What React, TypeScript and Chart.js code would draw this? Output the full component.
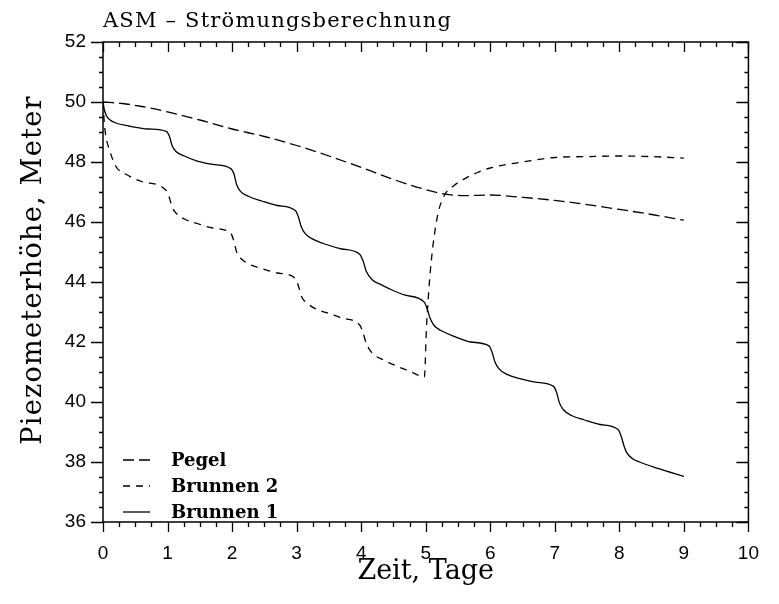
import React, { useEffect, useRef } from "react";
import { Chart, registerables } from "chart.js";

Chart.register(...registerables);

// ---- text ----
const CHART_TITLE = "ASM – Strömungsberechnung";
const X_TITLE = "Zeit, Tage";
const Y_TITLE = "Piezometerhöhe, Meter";
const SERIES_NAMES = ["Pegel", "Brunnen 2", "Brunnen 1"];

// ---- axes ----
const X_MIN = 0;
const X_MAX = 10;
const Y_MIN = 36;
const Y_MAX = 52;
const X_MAJOR_STEP = 1;
const X_MINOR_STEP = 0.25;
const Y_MAJOR_STEP = 2;
const Y_MINOR_STEP = 0.5;

// ---- data: Pegel ----
const pegelT = [0, 0.3, 0.6, 1, 1.5, 2, 2.5, 3, 3.5, 4, 4.5, 5, 5.3, 5.6, 6, 6.5, 7, 7.5, 8, 8.5, 9];
const pegelH = [50, 49.95, 49.85, 49.67, 49.4, 49.1, 48.85, 48.55, 48.2, 47.82, 47.42, 47.08, 46.93, 46.88, 46.9, 46.82, 46.72, 46.58, 46.42, 46.25, 46.06];

// ---- data: Brunnen 2 ----
const brunnen2T = [
  0, 0.02, 0.05, 0.1, 0.2, 0.35, 0.6, 0.98,
  1.03, 1.07, 1.13, 1.26, 1.46, 1.7, 1.98,
  2.03, 2.07, 2.13, 2.26, 2.46, 2.7, 2.98,
  3.03, 3.08, 3.17, 3.3, 3.5, 3.7, 3.98,
  4.03, 4.08, 4.18, 4.35, 4.58, 4.78, 4.98,
  5.01, 5.06, 5.11, 5.19, 5.29, 5.44, 5.56, 5.8, 6.0, 6.5, 7.0, 7.5, 8.0, 8.5, 9.0,
];
const brunnen2H = [
  50, 49.3, 48.8, 48.4, 47.85, 47.6, 47.35, 47.05,
  46.8, 46.5, 46.3, 46.1, 45.95, 45.8, 45.62,
  45.35, 45.0, 44.8, 44.6, 44.45, 44.3, 44.12,
  43.85, 43.5, 43.28, 43.1, 42.95, 42.8, 42.56,
  42.3, 41.95, 41.61, 41.4, 41.17, 41.0, 40.83,
  42.4, 44.06, 45.17, 46.28, 46.89, 47.22, 47.39, 47.65, 47.8, 48.0, 48.15, 48.18, 48.2, 48.18, 48.13,
];

// ---- data: Brunnen 1 ----
const brunnen1T = [
  0, 0.02, 0.05, 0.1, 0.2, 0.4, 0.7, 0.98,
  1.03, 1.07, 1.13, 1.26, 1.46, 1.7, 1.98,
  2.03, 2.07, 2.13, 2.26, 2.46, 2.7, 2.98,
  3.03, 3.07, 3.13, 3.26, 3.46, 3.7, 3.98,
  4.03, 4.08, 4.18, 4.3, 4.43, 4.68, 4.98,
  5.03, 5.07, 5.13, 5.23, 5.45, 5.7, 5.98,
  6.03, 6.07, 6.13, 6.26, 6.46, 6.7, 6.98,
  7.03, 7.07, 7.13, 7.26, 7.46, 7.7, 7.98,
  8.03, 8.07, 8.11, 8.2, 8.31, 8.61, 9.0,
];
const brunnen1H = [
  50, 49.75, 49.55, 49.42, 49.3, 49.2, 49.1, 49.02,
  48.85, 48.55, 48.35, 48.2, 48.03, 47.92, 47.78,
  47.6, 47.25, 47.02, 46.85, 46.7, 46.55, 46.38,
  46.15, 45.85, 45.62, 45.42, 45.25, 45.1, 44.92,
  44.7, 44.35, 44.06, 43.92, 43.78, 43.56, 43.32,
  43.05, 42.78, 42.55, 42.39, 42.18, 42.0, 41.87,
  41.65, 41.35, 41.12, 40.92, 40.78, 40.66, 40.52,
  40.3, 39.98, 39.75, 39.55, 39.4, 39.25, 39.08,
  38.85, 38.55, 38.33, 38.12, 38.0, 37.78, 37.52,
];

const DASHES = [[11, 5], [7, 6], []];

const zip = (t: number[], h: number[]) => t.map((x, i) => ({ x, y: h[i] }));

const setSpacing = (ctx: any, v: string) => {
  try { ctx.letterSpacing = v; } catch (e) {}
};

const framePlugin = {
  id: "frameTicks",
  afterDraw(chart: any) {
    const ctx = chart.ctx;
    const { left, right, top, bottom } = chart.chartArea;
    const xs = chart.scales.x;
    const ys = chart.scales.y;
    ctx.save();
    ctx.strokeStyle = "#000";
    ctx.setLineDash([]);
    ctx.lineWidth = 1.5;
    ctx.strokeRect(left, top, right - left, bottom - top);
    ctx.lineWidth = 1.3;
    ctx.beginPath();
    const nX = Math.round((X_MAX - X_MIN) / X_MINOR_STEP);
    for (let i = 0; i <= nX; i++) {
      const v = X_MIN + i * X_MINOR_STEP;
      const major = Math.abs(v / X_MAJOR_STEP - Math.round(v / X_MAJOR_STEP)) < 1e-6;
      const px = Math.round(xs.getPixelForValue(v)) + 0.5;
      const len = major ? 10 : 5;
      ctx.moveTo(px, top);
      ctx.lineTo(px, top + len);
      ctx.moveTo(px, bottom);
      ctx.lineTo(px, bottom + len);
    }
    const nY = Math.round((Y_MAX - Y_MIN) / Y_MINOR_STEP);
    for (let i = 0; i <= nY; i++) {
      const v = Y_MIN + i * Y_MINOR_STEP;
      const major = Math.abs(v / Y_MAJOR_STEP - Math.round(v / Y_MAJOR_STEP)) < 1e-6;
      const py = Math.round(ys.getPixelForValue(v)) + 0.5;
      const len = major ? 12 : 4;
      ctx.moveTo(left, py);
      ctx.lineTo(left - len, py);
      ctx.moveTo(right, py);
      ctx.lineTo(right - len, py);
    }
    ctx.stroke();

    ctx.fillStyle = "#000";

    // chart title
    ctx.font = "21px 'DejaVu Serif'";
    setSpacing(ctx, "1.2px");
    ctx.textAlign = "left";
    ctx.textBaseline = "alphabetic";
    ctx.fillText(CHART_TITLE, left, 27);

    // y-axis title (rotated)
    ctx.save();
    ctx.font = "27px 'DejaVu Serif'";
    setSpacing(ctx, "1.3px");
    ctx.translate(41, 270);
    ctx.rotate(-Math.PI / 2);
    ctx.textAlign = "center";
    ctx.textBaseline = "alphabetic";
    ctx.fillText(Y_TITLE, 0, 0);
    ctx.restore();
    setSpacing(ctx, "0px");

    // legend
    const rows = [460, 486, 512];
    ctx.font = "bold 18px 'DejaVu Serif'";
    ctx.textAlign = "left";
    ctx.textBaseline = "middle";
    SERIES_NAMES.forEach((name, i) => {
      ctx.beginPath();
      ctx.lineWidth = 1.3;
      ctx.setLineDash(DASHES[i]);
      ctx.moveTo(123, rows[i]);
      ctx.lineTo(150, rows[i]);
      ctx.stroke();
      ctx.setLineDash([]);
      ctx.fillText(name, 171, rows[i] + 1);
    });
    ctx.restore();
  },
};

export default function App() {
  const ref = useRef<HTMLCanvasElement | null>(null);
  useEffect(() => {
    if (!ref.current) return;
    const seriesData = [zip(pegelT, pegelH), zip(brunnen2T, brunnen2H), zip(brunnen1T, brunnen1H)];
    const chart = new Chart(ref.current, {
      type: "scatter",
      data: {
        datasets: SERIES_NAMES.map((name, i) => ({
          label: name,
          data: seriesData[i],
          showLine: true,
          borderColor: "#000",
          backgroundColor: "#000",
          borderWidth: 1.3,
          borderDash: DASHES[i],
          pointRadius: 0,
          pointHoverRadius: 0,
          cubicInterpolationMode: "monotone" as const,
          fill: false,
        })),
      },
      options: {
        responsive: false,
        animation: false,
        events: [],
        devicePixelRatio: 1,
        layout: { padding: { left: 0, right: 14, top: 42, bottom: 0 } },
        plugins: {
          legend: { display: false },
          tooltip: { enabled: false },
          title: { display: false },
        },
        scales: {
          x: {
            type: "linear",
            min: X_MIN,
            max: X_MAX,
            grid: { display: false, drawTicks: false, tickLength: 0 },
            border: { display: false },
            ticks: {
              stepSize: X_MAJOR_STEP,
              padding: 20,
              color: "#000",
              font: { family: "'Liberation Sans'", size: 19 },
              maxRotation: 0,
              autoSkip: false,
            },
            title: {
              display: true,
              text: X_TITLE,
              color: "#000",
              font: { family: "'DejaVu Serif'", size: 27 },
              padding: { top: 0, bottom: 16 },
            },
            afterFit: (s: any) => { s.height = 82; },
          },
          y: {
            type: "linear",
            min: Y_MIN,
            max: Y_MAX,
            grid: { display: false, drawTicks: false, tickLength: 0 },
            border: { display: false },
            ticks: {
              stepSize: Y_MAJOR_STEP,
              padding: 17,
              color: "#000",
              font: { family: "'Liberation Sans'", size: 19 },
              autoSkip: false,
            },
            title: { display: false, text: Y_TITLE },
            afterFit: (s: any) => { s.width = 103; },
          },
        },
      },
      plugins: [framePlugin],
    });
    return () => chart.destroy();
  }, []);
  return (
    <div style={{ position: "absolute", left: 0, top: 0, width: 779, height: 604, background: "#fff" }}>
      <canvas ref={ref} width={779} height={604} style={{ display: "block" }} />
    </div>
  );
}
